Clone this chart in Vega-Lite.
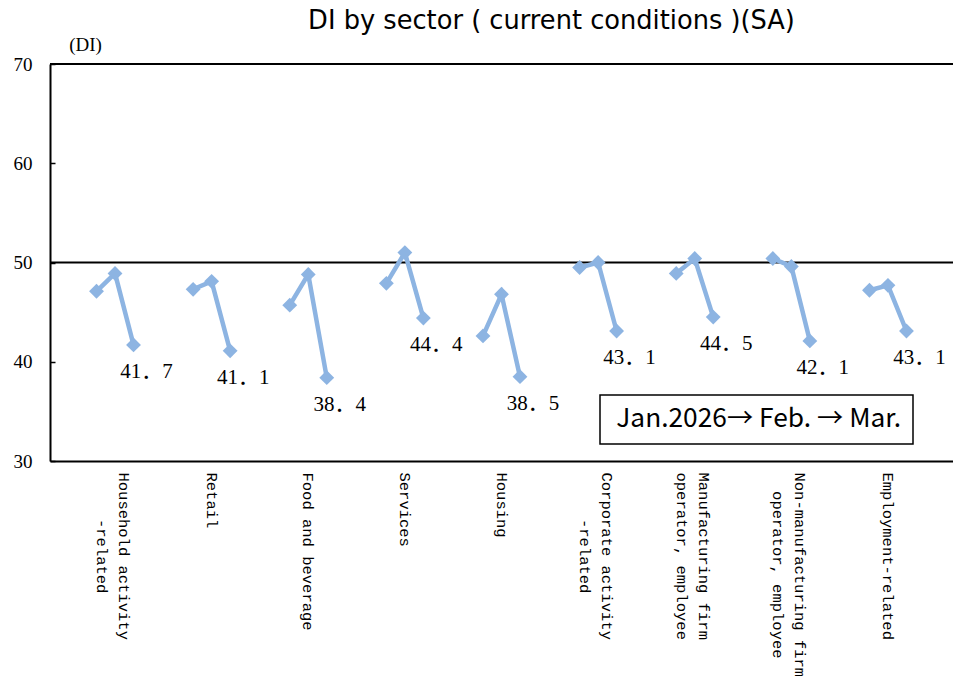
{
  "$schema": "https://vega.github.io/schema/vega-lite/v6.json",
  "autosize": "none",
  "width": 903,
  "height": 397,
  "padding": {"left": 50, "top": 64, "right": 0, "bottom": 215},
  "background": "white",
  "config": {"view": {"stroke": null}, "legend": {"strokeWidth": 1.5}},
  "title": {
    "text": "DI by sector ( current conditions )(SA)",
    "font": "DejaVu Sans",
    "fontSize": 25.7,
    "fontWeight": "normal",
    "color": "black",
    "anchor": "middle",
    "frame": "group",
    "dx": 50,
    "offset": 0
  },
  "data": {
    "values": [
      {"sector": "Household activity\n\u200B\u00a0\u00a0\u00a0\u00a0\u00a0-related", "month": "Jan.", "value": 47.1},
      {"sector": "Household activity\n\u200B\u00a0\u00a0\u00a0\u00a0\u00a0-related", "month": "Feb.", "value": 48.9},
      {"sector": "Household activity\n\u200B\u00a0\u00a0\u00a0\u00a0\u00a0-related", "month": "Mar.", "value": 41.7},
      {"sector": "Retail", "month": "Jan.", "value": 47.3},
      {"sector": "Retail", "month": "Feb.", "value": 48.1},
      {"sector": "Retail", "month": "Mar.", "value": 41.1},
      {"sector": "Food and beverage", "month": "Jan.", "value": 45.7},
      {"sector": "Food and beverage", "month": "Feb.", "value": 48.8},
      {"sector": "Food and beverage", "month": "Mar.", "value": 38.4},
      {"sector": "Services", "month": "Jan.", "value": 47.9},
      {"sector": "Services", "month": "Feb.", "value": 51.0},
      {"sector": "Services", "month": "Mar.", "value": 44.4},
      {"sector": "Housing", "month": "Jan.", "value": 42.6},
      {"sector": "Housing", "month": "Feb.", "value": 46.8},
      {"sector": "Housing", "month": "Mar.", "value": 38.5},
      {"sector": "Corporate activity\n\u200B\u00a0\u00a0\u00a0\u00a0\u00a0-related", "month": "Jan.", "value": 49.5},
      {"sector": "Corporate activity\n\u200B\u00a0\u00a0\u00a0\u00a0\u00a0-related", "month": "Feb.", "value": 50.0},
      {"sector": "Corporate activity\n\u200B\u00a0\u00a0\u00a0\u00a0\u00a0-related", "month": "Mar.", "value": 43.1},
      {"sector": "Manufacturing firm\noperator, employee", "month": "Jan.", "value": 48.9},
      {"sector": "Manufacturing firm\noperator, employee", "month": "Feb.", "value": 50.4},
      {"sector": "Manufacturing firm\noperator, employee", "month": "Mar.", "value": 44.5},
      {"sector": "Non-manufacturing firm\n\u200B\u00a0\u00a0operator, employee", "month": "Jan.", "value": 50.4},
      {"sector": "Non-manufacturing firm\n\u200B\u00a0\u00a0operator, employee", "month": "Feb.", "value": 49.6},
      {"sector": "Non-manufacturing firm\n\u200B\u00a0\u00a0operator, employee", "month": "Mar.", "value": 42.1},
      {"sector": "Employment-related", "month": "Jan.", "value": 47.2},
      {"sector": "Employment-related", "month": "Feb.", "value": 47.7},
      {"sector": "Employment-related", "month": "Mar.", "value": 43.1}
    ]
  },
  "encoding": {
    "y": {
      "field": "value",
      "type": "quantitative",
      "scale": {"domain": [30, 70], "nice": false, "zero": false},
      "axis": {
        "title": "(DI)",
        "titleAngle": 0,
        "titleX": 35,
        "titleY": -20,
        "titleAlign": "center",
        "titleBaseline": "middle",
        "titleFont": "Liberation Serif",
        "titleFontSize": 19,
        "titleFontWeight": "normal",
        "titleColor": "black",
        "values": [30, 40, 50, 60, 70],
        "grid": false,
        "domainColor": "black",
        "domainWidth": 2,
        "tickColor": "black",
        "tickSize": -5,
        "tickWidth": 1.5,
        "labelFont": "Liberation Serif",
        "labelFontSize": 19,
        "labelColor": "black",
        "labelPadding": 23
      }
    }
  },
  "layer": [
    {
      "data": {"values": [{"value": 50}, {"value": 70}]},
      "mark": {"type": "rule", "color": "black", "strokeWidth": 2},
      "encoding": {}
    },
    {
      "encoding": {
        "x": {
          "field": "sector",
          "type": "nominal",
          "sort": null,
          "scale": {"paddingOuter": 0.173, "paddingInner": 0},
          "axis": {
            "title": null,
            "labelAngle": 90,
            "labelAlign": "left",
            "labelBaseline": "middle",
            "labelFont": "Liberation Mono",
            "labelFontSize": 15.5,
            "labelColor": "black",
            "labelPadding": 11,
            "labelOffset": {"condition": {"test": "indexof(datum.value, '\\n') >= 0", "value": 9}, "value": 0},
            "ticks": false,
            "domainColor": "black",
            "domainWidth": 2,
            "labelLimit": 0,
            "labelLineHeight": 22,
            "labelExpr": "split(datum.label, '\\n')"
          }
        },
        "xOffset": {
          "field": "month",
          "type": "nominal",
          "sort": null,
          "scale": {"range": [29.8, 66.8], "padding": 0}
        }
      },
      "layer": [
        {
          "mark": {"type": "line", "strokeWidth": 4.5},
          "encoding": {
            "detail": {"field": "sector"},
            "color": {
              "datum": "Jan.2026→ Feb. → Mar.",
              "type": "nominal",
              "scale": {"range": ["#8DB4E2"]},
              "legend": {
                "orient": "none",
                "legendX": 550,
                "legendY": 331,
                "title": null,
                "symbolSize": 0,
                "symbolStrokeWidth": 0,
                "symbolOpacity": 0,
                "labelFont": "Noto Sans CJK JP",
                "labelFontSize": 26.3,
                "labelColor": "black",
                "labelLimit": 0,
                "labelOffset": -21,
                "padding": 11,
                "strokeColor": "black",
                "fillColor": "white",
                "cornerRadius": 0
              }
            }
          }
        },
        {
          "mark": {"type": "point", "shape": "diamond", "filled": true, "size": 220, "opacity": 1, "color": "#8DB4E2"}
        },
        {
          "transform": [
            {"filter": "datum.month === 'Mar.'"},
            {"calculate": "replace(format(datum.value, '.1f'), '.', '．')", "as": "label"}
          ],
          "mark": {"type": "text", "align": "center", "baseline": "top", "dx": 13, "dy": 16, "font": "'Liberation Serif', 'Noto Sans CJK JP'", "fontSize": 21, "color": "black"},
          "encoding": {"text": {"field": "label"}}
        }
      ]
    }
  ]
}
